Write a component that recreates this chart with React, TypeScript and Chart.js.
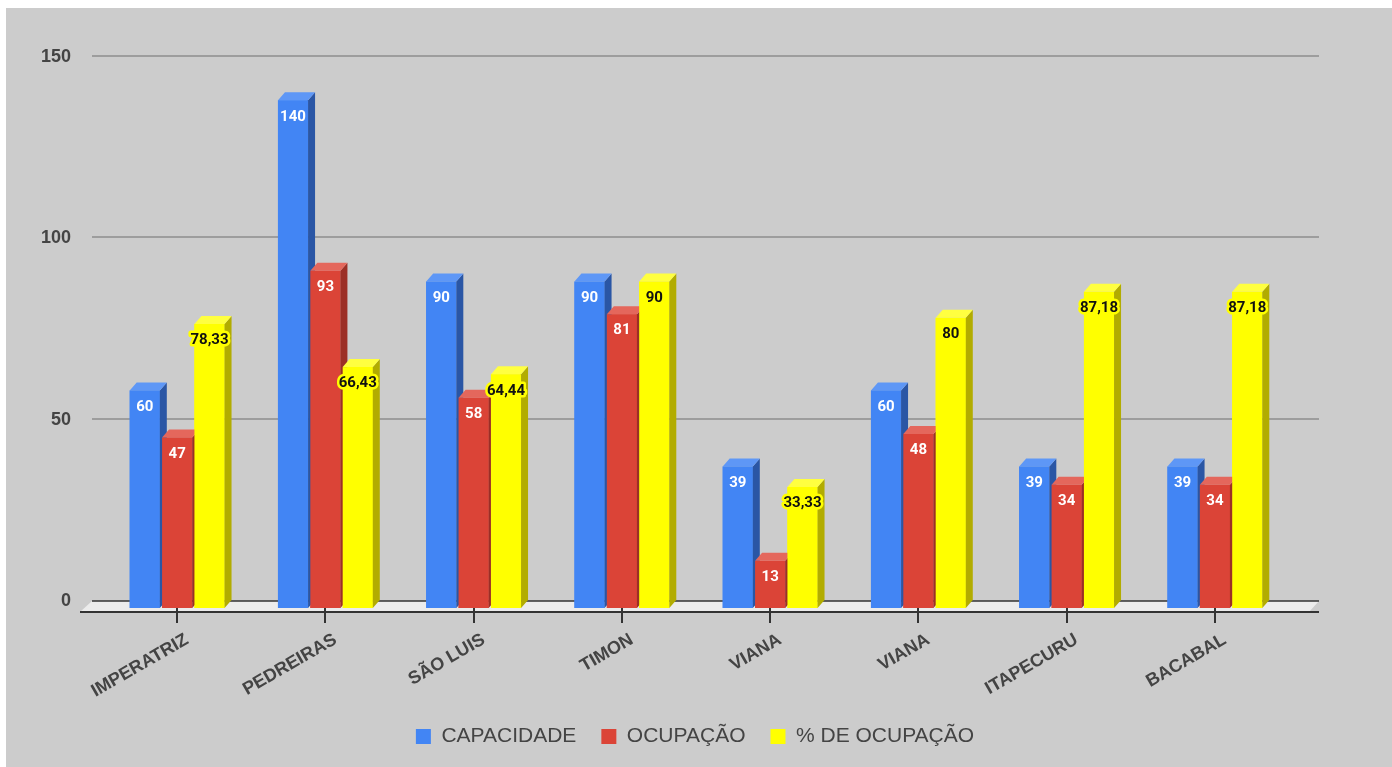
import React, { useEffect, useRef } from 'react';
import { Chart, registerables } from 'chart.js';

Chart.register(...registerables);

// ---- data ----
const categories = ['IMPERATRIZ', 'PEDREIRAS', 'SÃO LUIS', 'TIMON', 'VIANA', 'VIANA', 'ITAPECURU', 'BACABAL'];
const capacidade = [60, 140, 90, 90, 39, 60, 39, 39];
const ocupacao = [47, 93, 58, 81, 13, 48, 34, 34];
const pctOcupacao = [78.33, 66.43, 64.44, 90, 33.33, 80, 87.18, 87.18];
const seriesNames = ['CAPACIDADE', 'OCUPAÇÃO', '% DE OCUPAÇÃO'];
const yTicks = [0, 50, 100, 150];

// ---- styles ----
const frontColors = ['#4285f4', '#db4437', '#ffff00'];
const sideColors = ['#2a56a5', '#9c2f26', '#b2ac00'];
const topColors = ['#5e97f6', '#e4675c', '#ffff40'];
const labelColors = ['#ffffff', '#ffffff', '#111111'];
const haloColors = [null, null, '#ffff00'];

const DX = 7;
const DY = 8;

const fmt = (v: number) => String(v).replace('.', ',');

const threeD = {
  id: 'threeD',
  beforeDraw(chart: any) {
    const { ctx, chartArea, scales } = chart;
    const y = scales.y;
    const left = chartArea.left;
    const right = chartArea.right;
    const y0 = y.getPixelForValue(0);
    ctx.save();
    ctx.strokeStyle = '#9d9d9d';
    ctx.lineWidth = 2;
    for (const t of yTicks) {
      if (t === 0) continue;
      const py = Math.round(y.getPixelForValue(t) - 8);
      ctx.beginPath();
      ctx.moveTo(left - 11, py);
      ctx.lineTo(right + 30, py);
      ctx.stroke();
    }
    const backY = y0 - 7;
    const frontY = y0 + 4;
    ctx.fillStyle = '#ececec';
    ctx.beginPath();
    ctx.moveTo(left - 11, backY);
    ctx.lineTo(right + 30, backY);
    ctx.lineTo(right + 20, frontY);
    ctx.lineTo(left - 23, frontY);
    ctx.closePath();
    ctx.fill();
    ctx.strokeStyle = '#333333';
    ctx.lineWidth = 1.5;
    ctx.beginPath();
    ctx.moveTo(left - 11, backY);
    ctx.lineTo(right + 30, backY);
    ctx.stroke();
    ctx.lineWidth = 2;
    ctx.beginPath();
    ctx.moveTo(left - 23, frontY);
    ctx.lineTo(right + 30, frontY);
    ctx.stroke();
    ctx.restore();
  },
  afterDatasetsDraw(chart: any) {
    const { ctx } = chart;
    ctx.save();
    const n = chart.data.datasets.length;
    for (let i = 0; i < n; i++) {
      const meta = chart.getDatasetMeta(i);
      meta.data.forEach((el: any) => {
        const { x, y, base, width } = el.getProps(['x', 'y', 'base', 'width'], true);
        const x1 = x - width / 2;
        const x2 = x + width / 2;
        ctx.fillStyle = frontColors[i];
        ctx.fillRect(x1, y, width, base - y);
        ctx.fillStyle = sideColors[i];
        ctx.beginPath();
        ctx.moveTo(x2, y);
        ctx.lineTo(x2 + DX, y - DY);
        ctx.lineTo(x2 + DX, base - DY);
        ctx.lineTo(x2, base);
        ctx.closePath();
        ctx.fill();
        ctx.fillStyle = topColors[i];
        ctx.beginPath();
        ctx.moveTo(x1, y);
        ctx.lineTo(x1 + DX, y - DY);
        ctx.lineTo(x2 + DX, y - DY);
        ctx.lineTo(x2, y);
        ctx.closePath();
        ctx.fill();
      });
    }
    ctx.font = "bold 15px Roboto, 'Liberation Sans', sans-serif";
    ctx.textAlign = 'center';
    ctx.textBaseline = 'middle';
    ctx.lineJoin = 'round';
    for (let i = 0; i < n; i++) {
      const meta = chart.getDatasetMeta(i);
      const values = chart.data.datasets[i].data as number[];
      meta.data.forEach((el: any, j: number) => {
        const { x, y } = el.getProps(['x', 'y'], true);
        const txt = fmt(values[j]);
        const ty = y + 16.5;
        const halo = haloColors[i];
        if (halo) {
          ctx.strokeStyle = halo;
          ctx.lineWidth = 5;
          ctx.strokeText(txt, x, ty);
        }
        ctx.fillStyle = labelColors[i];
        ctx.fillText(txt, x, ty);
      });
    }
    ctx.restore();
  },
};

export default function App() {
  const ref = useRef<HTMLCanvasElement | null>(null);

  useEffect(() => {
    if (!ref.current) return;
    Chart.defaults.font.family = "'Liberation Sans', Arial, sans-serif";
    const seriesData = [capacidade, ocupacao, pctOcupacao];
    const chart = new Chart(ref.current, {
      type: 'bar',
      data: {
        labels: categories,
        datasets: seriesNames.map((name, i) => ({
          label: name,
          data: seriesData[i],
          backgroundColor: frontColors[i],
          borderWidth: 0,
          categoryPercentage: 0.655,
          barPercentage: 0.93,
        })),
      },
      options: {
        responsive: false,
        animation: false,
        events: [],
        layout: { padding: { left: 0, right: 8, top: 56, bottom: 10 } },
        plugins: {
          tooltip: { enabled: false },
          legend: {
            position: 'bottom',
            labels: {
              boxWidth: 15,
              boxHeight: 15,
              padding: 25,
              color: '#444444',
              font: { size: 21, family: "'Liberation Sans', Arial, sans-serif" },
            },
          },
        },
        scales: {
          x: {
            grid: {
              display: true,
              drawOnChartArea: false,
              drawTicks: true,
              tickLength: 15,
              offset: false,
              color: '#333333',
              lineWidth: 2,
            },
            border: { display: false },
            ticks: {
              autoSkip: false,
              maxRotation: 30,
              minRotation: 30,
              padding: 6,
              labelOffset: 10,
              color: '#444444',
              font: { size: 18, weight: 'bold' },
            },
            afterFit: (s: any) => {
              s.height = 93;
            },
          },
          y: {
            min: 0,
            max: 150,
            grid: { display: false, drawTicks: false },
            border: { display: false },
            afterBuildTicks: (s: any) => {
              s.ticks = yTicks.map((v) => ({ value: v }));
            },
            ticks: {
              padding: 32,
              labelOffset: -7,
              color: '#444444',
              font: { size: 18, weight: 'bold' },
            },
            afterFit: (s: any) => {
              s.width = 97;
            },
          },
          // empty right-hand spacer so the plot ends where the reference's does
          yRight: {
            position: 'right',
            display: true,
            min: 0,
            max: 150,
            grid: { display: false, drawTicks: false },
            border: { display: false },
            ticks: { display: false },
            afterFit: (s: any) => {
              s.width = 95;
            },
          },
        },
      },
      plugins: [threeD],
    });
    return () => chart.destroy();
  }, []);

  return (
    <div style={{ position: 'absolute', left: 6, top: 8, width: 1386, height: 759, background: '#cccccc' }}>
      <canvas ref={ref} width={1386} height={759} style={{ width: 1386, height: 759, display: 'block' }} />
    </div>
  );
}
